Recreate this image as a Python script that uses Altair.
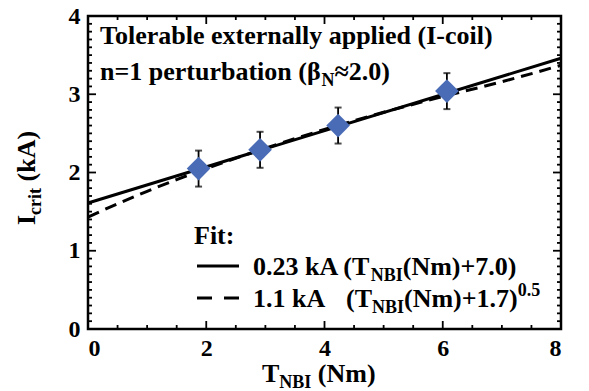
import altair as alt
import pandas as pd

# ---------------- data ----------------
torque = [1.87, 2.91, 4.23, 6.07]          # T_NBI (Nm)
icrit = [2.05, 2.29, 2.60, 3.04]           # I_crit (kA)
icrit_err = [0.23, 0.23, 0.23, 0.23]

lin_x = [0.0, 8.0]
lin_y = [1.61, 3.46]

sq_x = [0.0, 0.5, 1.0, 1.5, 2.0, 3.0, 4.0, 5.0, 6.0, 7.0, 8.0]
sq_y = [1.43, 1.60, 1.76, 1.91, 2.05, 2.31, 2.55, 2.77, 2.97, 3.16, 3.37]

x_major = [0, 2, 4, 6, 8]
x_minor = [0.5, 1, 1.5, 2.5, 3, 3.5, 4.5, 5, 5.5, 6.5, 7, 7.5]
y_major = [0, 1, 2, 3, 4]
y_minor = [round(i * 0.1, 1) for i in range(41) if i % 10 != 0]

# ---------------- layout ----------------
W, H = 473, 313
FONT = "Times New Roman, Liberation Serif, serif"
BLUE = "#4a6cb6"

# Times-Bold advance widths (per 1000 em) for text placement
ADV = {' ': 250, '!': 333, '(': 333, ')': 333, '+': 570, '-': 333, '.': 250,
       ':': 333, '=': 570, '≈': 549, 'β': 556, 'A': 722, 'B': 667, 'I': 389,
       'N': 722, 'T': 667, 'F': 611, 'a': 500, 'b': 556, 'c': 444, 'd': 556,
       'e': 444, 'i': 278, 'k': 556, 'l': 278, 'm': 833, 'n': 556, 'o': 500,
       'p': 556, 'r': 444, 't': 333, 'u': 556, 'x': 500, 'y': 500}


def tw(s, size):
    return sum(ADV.get(c, 500) for c in s) * size / 1000.0


def rich(x0, y0, segs, angle=0):
    """segs: list of (text, size, baseline shift (+ = down))."""
    layers = []
    pos = x0 if angle == 0 else y0
    for text, size, shift in segs:
        lead = len(text) - len(text.lstrip(" "))
        if lead:
            adv = tw(" " * lead, size)
            pos = pos + adv if angle == 0 else pos - adv
            text = text.lstrip(" ")
        if angle == 0:
            px, py = pos, y0 + shift
        else:
            px, py = x0 + shift, pos
        layers.append(
            alt.Chart(pd.DataFrame({"t": [text]}))
            .mark_text(font=FONT, fontWeight="bold", fontSize=size, align="left",
                       baseline="alphabetic", angle=angle, color="black")
            .encode(text="t:N", x=alt.value(px), y=alt.value(py))
        )
        if angle == 0:
            pos += tw(text, size)
        else:
            pos -= tw(text, size)
    return layers


xs = alt.Scale(domain=[0, 8], nice=False, zero=False)
ys = alt.Scale(domain=[0, 4], nice=False, zero=False)

df_pts = pd.DataFrame({"x": torque, "y": icrit,
                       "lo": [a - b for a, b in zip(icrit, icrit_err)],
                       "hi": [a + b for a, b in zip(icrit, icrit_err)]})
df_lin = pd.DataFrame({"x": lin_x, "y": lin_y})
df_sq = pd.DataFrame({"x": sq_x, "y": sq_y})

xaxis = alt.Axis(values=x_major, format="d", ticks=False, domain=False, grid=False,
                 labelFont=FONT, labelFontWeight="bold", labelFontSize=24,
                 labelPadding=7, labelColor="black", title=None)
yaxis = alt.Axis(values=y_major, format="d", ticks=False, domain=False, grid=False,
                 labelFont=FONT, labelFontWeight="bold", labelFontSize=24,
                 labelPadding=8, labelColor="black", title=None)

line_lin = alt.Chart(df_lin).mark_line(color="black", strokeWidth=3).encode(
    x=alt.X("x:Q", scale=xs, axis=xaxis), y=alt.Y("y:Q", scale=ys, axis=yaxis))
line_sq = alt.Chart(df_sq).mark_line(color="black", strokeWidth=3,
                                     strokeDash=[12, 7], interpolate="monotone").encode(
    x=alt.X("x:Q", scale=xs), y=alt.Y("y:Q", scale=ys))

err = alt.Chart(df_pts).mark_rule(color="black", strokeWidth=1.8).encode(
    x=alt.X("x:Q", scale=xs), y=alt.Y("lo:Q", scale=ys), y2="hi:Q")
cap_hi = alt.Chart(df_pts).mark_tick(color="black", orient="horizontal", size=7,
                                     thickness=2).encode(
    x=alt.X("x:Q", scale=xs), y=alt.Y("hi:Q", scale=ys))
cap_lo = alt.Chart(df_pts).mark_tick(color="black", orient="horizontal", size=7,
                                     thickness=2).encode(
    x=alt.X("x:Q", scale=xs), y=alt.Y("lo:Q", scale=ys))
pts = alt.Chart(df_pts).mark_point(shape="diamond", filled=True, size=560,
                                   color=BLUE, opacity=1).encode(
    x=alt.X("x:Q", scale=xs), y=alt.Y("y:Q", scale=ys))


def xticks(vals, ln):
    d = pd.DataFrame({"v": vals})
    b = alt.Chart(d).mark_rule(color="black", strokeWidth=1.8).encode(
        x=alt.X("v:Q", scale=xs), y=alt.value(H), y2=alt.value(H - ln))
    t = alt.Chart(d).mark_rule(color="black", strokeWidth=1.8).encode(
        x=alt.X("v:Q", scale=xs), y=alt.value(0), y2=alt.value(ln))
    return [b, t]


def yticks(vals, ln):
    d = pd.DataFrame({"v": vals})
    l = alt.Chart(d).mark_rule(color="black", strokeWidth=1.8).encode(
        y=alt.Y("v:Q", scale=ys), x=alt.value(0), x2=alt.value(ln))
    r = alt.Chart(d).mark_rule(color="black", strokeWidth=1.8).encode(
        y=alt.Y("v:Q", scale=ys), x=alt.value(W), x2=alt.value(W - ln))
    return [l, r]


ticks = xticks(x_major, 8) + xticks(x_minor, 4) + yticks(y_major, 8) + yticks(y_minor, 4)

# legend symbols
leg_solid = alt.Chart(pd.DataFrame({"a": [0]})).mark_rule(color="black", strokeWidth=3).encode(
    x=alt.value(109), x2=alt.value(151), y=alt.value(250))
leg_dash = alt.Chart(pd.DataFrame({"a": [0]})).mark_rule(color="black", strokeWidth=3,
                                                         strokeDash=[15, 12]).encode(
    x=alt.value(109), x2=alt.value(152), y=alt.value(282))

texts = []
texts += rich(12, 28, [("Tolerable externally applied (I-coil)", 26, 0)])
texts += rich(12, 64, [("n=1 perturbation (β", 26, 0), ("N", 18, 6), ("≈2.0)", 26, 0)])
texts += rich(106, 228, [("Fit:", 26, 0)])
texts += rich(165, 259, [("0.23 kA (T", 26, 0), ("NBI", 18, 6), ("(Nm)+7.0)", 26, 0)])
texts += rich(165, 291, [("1.1 kA", 26, 0)])
texts += rich(258, 291, [("(T", 26, 0), ("NBI", 18, 6), ("(Nm)+1.7)", 26, 0), ("0.5", 18, -11)])
# axis titles
texts += rich(174, 366, [("T", 26, 0), ("NBI", 18, 6), (" (Nm)", 26, 0)])
texts += rich(-53, 209, [("I", 26, 0), ("crit", 18, 6), (" (kA)", 26, 0)], angle=270)

chart = alt.layer(
    line_sq, line_lin, err, cap_hi, cap_lo, pts, *ticks, leg_solid, leg_dash, *texts
).properties(
    width=W, height=H,
    padding={"left": 80, "top": 8, "right": 20, "bottom": 66},
    autosize=alt.AutoSizeParams(type="none"),
).configure_view(stroke="black", strokeWidth=2.5)

chart.save("out.html", embed_options={"renderer": "svg", "actions": False})
